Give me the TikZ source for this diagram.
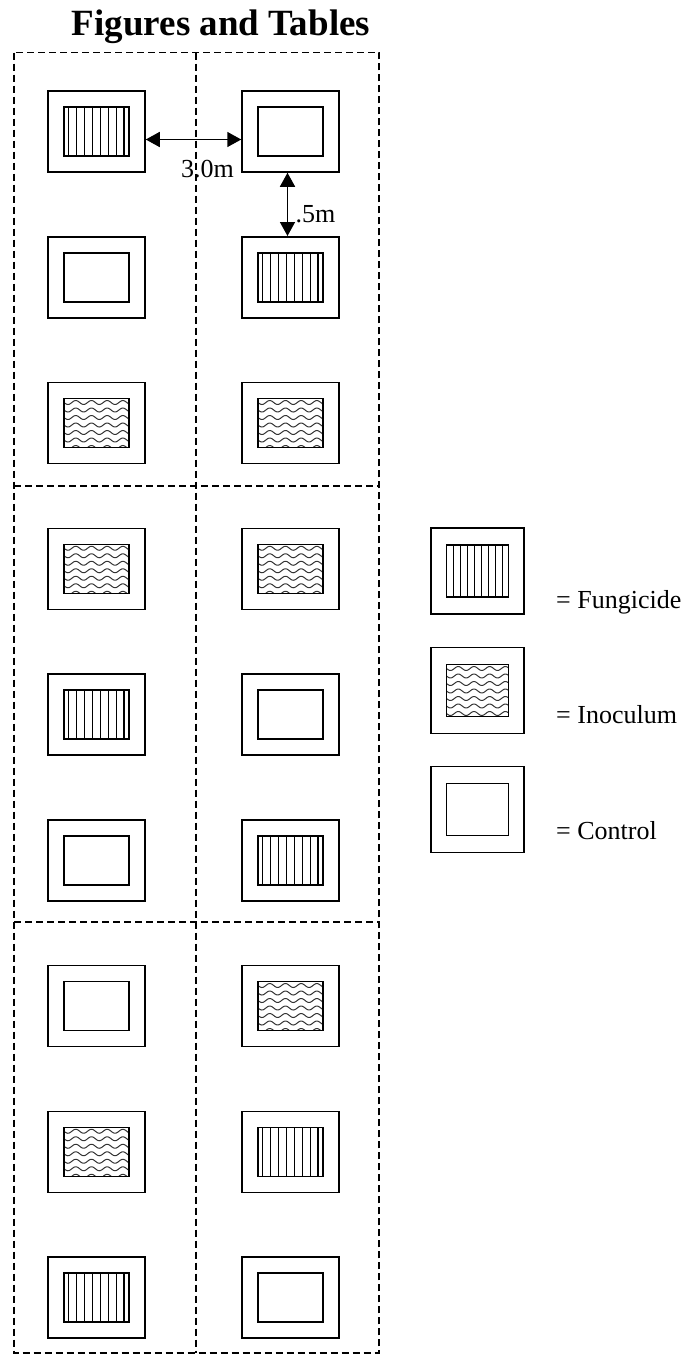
\documentclass[tikz,border=0pt]{standalone}
\usepackage{fontspec}
\setmainfont{Liberation Serif}
\usetikzlibrary{arrows.meta,calc}
\tikzset{
 plotbox/.style={draw, line width=1.5pt, minimum width=97pt, minimum height=81pt, inner sep=0pt},
 innerbox/.style={draw, line width=1.5pt, minimum width=65pt, minimum height=49pt, inner sep=0pt},
 legbox/.style={draw, line width=1.5pt, minimum width=93pt, minimum height=86pt, inner sep=0pt},
 leginner/.style={draw, line width=1.5pt, minimum width=62pt, minimum height=52pt, inner sep=0pt},
 gridline/.style={line width=1.5pt, dash pattern=on 7pt off 4pt},
 stripe/.style={line width=1.1pt},
 wave/.style={line width=1pt, black!80},
 arr/.style={line width=1.5pt, {Triangle[length=14pt,width=15pt]}-{Triangle[length=14pt,width=15pt]}},
 lbl/.style={font=\fontsize{26}{30}\selectfont, inner sep=0pt, anchor=base west},
}
\newcommand{\StripeFill}[6]{% cx cy w h first spacing
  \foreach \k in {0,...,7}{
    \draw[stripe] ({#1-#3/2+#5+\k*#6},{#2-#4/2}) -- ({#1-#3/2+#5+\k*#6},{#2+#4/2});
  }}
\newcommand{\WaveFill}[4]{% cx cy w h
  \begin{scope}
    \clip ({#1-#3/2},{#2-#4/2}) rectangle ({#1+#3/2},{#2+#4/2});
    \foreach \j in {0,...,6}{
      \draw[wave] plot[domain=-2:{#3+2}, samples=60, smooth]
        ({#1-#3/2+\x},{#2-#4/2+4+\j*7.5+2*sin(\x*22.93)});
    }
  \end{scope}}
\begin{document}
\begin{tikzpicture}[x=1pt,y=-1pt]
\useasboundingbox (0,0) rectangle (691,1355);
% title
\node[font=\fontsize{37}{42}\selectfont\bfseries, inner sep=0pt, anchor=base] (title) at (221,35) {Figures and Tables};
% dashed blocks
\draw[gridline] (14,52.7) rectangle (379,1353);
\draw[gridline] (196,52.7) -- (196,1353);
\draw[gridline] (14,486) -- (379,486);
\draw[gridline] (14,922) -- (379,922);
% plots: row/col/type (1=fungicide, 2=inoculum, 3=control)
\foreach \r/\c/\t in {1/1/1, 1/2/3, 2/1/3, 2/2/1, 3/1/2, 3/2/2, 4/1/2, 4/2/2, 5/1/1, 5/2/3, 6/1/3, 6/2/1, 7/1/3, 7/2/2, 8/1/2, 8/2/1, 9/1/1, 9/2/3}{
  \pgfmathsetmacro{\cx}{\c==1 ? 96.5 : 290.5}
  \pgfmathsetmacro{\cy}{131.5+(\r-1)*145.75}
  \ifcase\t\or
    \StripeFill{\cx}{\cy}{65}{49}{4.7}{7.9}
  \or
    \WaveFill{\cx}{\cy}{65}{49}
  \or\fi
  \node[plotbox] (p\r\c) at (\cx,\cy) {};
  \node[innerbox] (q\r\c) at (\cx,\cy) {};
}
% distance arrows
\coordinate (ha) at (0,139.5);
\coordinate (va) at (287.5,0);
\draw[arr] (p11.east |- ha) -- (p12.west |- ha);
\draw[arr] (p12.south -| va) -- (p22.north -| va);
\node[lbl] (d1) at (181,177) {3.0m};
\node[lbl] (d2) at (295.5,222) {.5m};
% legend
\StripeFill{477.5}{571}{62}{52}{7.3}{6.9}
\node[legbox] (lf) at (477.5,571) {};
\node[leginner] (lfi) at (477.5,571) {};
\WaveFill{477.5}{690.5}{62}{52}
\node[legbox] (li) at (477.5,690.5) {};
\node[leginner] (lii) at (477.5,690.5) {};
\node[legbox] (lc) at (477.5,809.5) {};
\node[leginner] (lci) at (477.5,809.5) {};
\node[lbl] (tf) at (556,608) {= Fungicide};
\node[lbl] (ti) at (556,723) {= Inoculum};
\node[lbl] (tc) at (556,839) {= Control};
\end{tikzpicture}
\end{document}
